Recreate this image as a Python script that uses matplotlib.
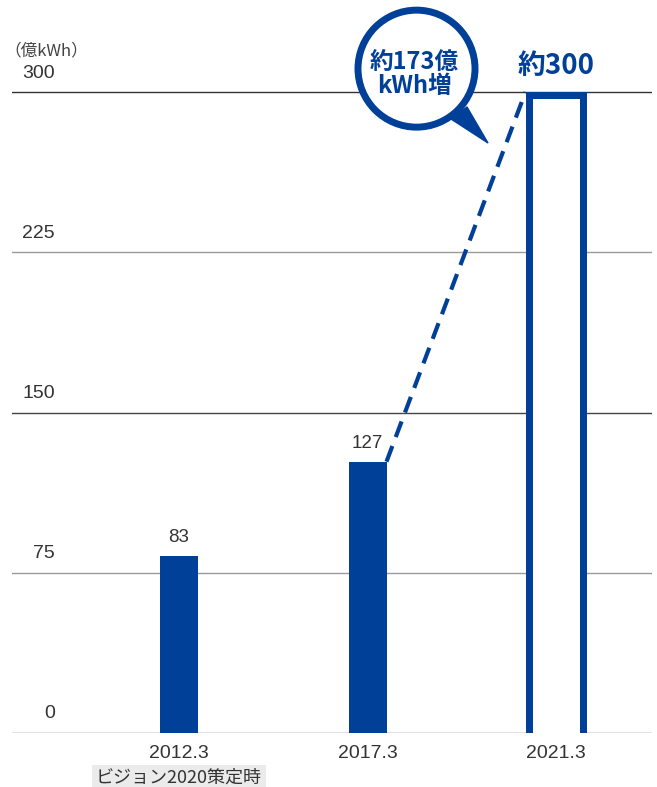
import matplotlib
matplotlib.use("Agg")
import matplotlib.pyplot as plt
from matplotlib.patches import Ellipse, Polygon
from matplotlib.transforms import blended_transform_factory

plt.rcParams['font.family'] = ['Liberation Sans', 'Noto Sans CJK JP']

# data
categories = ["2012.3", "2017.3", "2021.3"]
values = [83, 127, 300]
value_labels = ["83", "127", "約300"]
y_ticks = [0, 75, 150, 225, 300]
unit_label = "（億kWh）"
note_label = "ビジョン2020策定時"
bubble_lines = ["約173億", "kWh増"]

BLUE = "#004098"
TEXT = "#333333"
JP = ['Noto Sans CJK JP', 'Liberation Sans']

W, H = 657, 787
fig = plt.figure(figsize=(W / 100, H / 100), dpi=100)
# axes: left 12px, right 652px, y=0 at 733px from top, top at 0px
ax = fig.add_axes([12 / W, 54 / H, 640 / W, 733 / H])
px_x = 188.5          # px per category
px_y = 641 / 300      # px per unit
ax.set_xlim(-167 / px_x, 473 / px_x)
ax.set_ylim(0, 733 / px_y)
ax.axis("off")

# grid lines
grid_colors = ["#666666", "#9a9a9a", "#444444", "#9a9a9a", "#333333"]
tr = blended_transform_factory(ax.transAxes, ax.transData)
for v, c in zip(y_ticks, grid_colors):
    ax.axhline(v, color=c, lw=1.0, zorder=1)
    ax.text(43 / 640, v + 19 / px_y, str(v), transform=tr, ha="right", va="center",
            fontsize=14, color=TEXT)
ax.text(-8 / 640, 300 + 41 / px_y, unit_label, transform=tr, ha="left", va="center",
        fontsize=12, color="#444444", family=JP)

x = list(range(len(categories)))
bw = 38 / px_x
ax.bar(x[:2], values[:2], width=bw, color=BLUE, zorder=3)

# hollow bar for the target
lw_px = 7
w3 = (61 - lw_px) / px_x
inset = lw_px / 2 / px_y
ax.bar(x[2], values[2], width=w3, color="white", zorder=2)
ax.plot([x[2] - w3 / 2, x[2] - w3 / 2, x[2] + w3 / 2, x[2] + w3 / 2],
        [0, values[2] - inset, values[2] - inset, 0],
        color=BLUE, lw=lw_px * 0.72, solid_joinstyle="miter", zorder=3)

# value labels
for xi, v, lab in zip(x[:2], values[:2], value_labels[:2]):
    ax.text(xi, v + 18 / px_y, lab, ha="center", va="center", fontsize=13.5, color=TEXT)
ax.text(x[2], values[2] + 26 / px_y, value_labels[2], ha="center", va="center",
        fontsize=20, color=BLUE, fontweight="bold", family=JP)

# category labels
for xi, lab in zip(x, categories):
    ax.text(xi, -20 / px_y, lab, ha="center", va="center", fontsize=14, color=TEXT,
            clip_on=False)
ax.text(x[0], -45 / px_y, note_label, ha="center", va="center", fontsize=13,
        color=TEXT, family=JP, clip_on=False,
        bbox=dict(boxstyle="square,pad=0.2", facecolor="#ebebeb", edgecolor="none"))

# dashed growth line
ax.plot([x[1] + bw / 2, x[2] - w3 / 2 - lw_px / 2 / px_x],
        [values[1], values[2]], color=BLUE, lw=3, dashes=(4, 2.3), zorder=3)

# speech bubble
cx, cy = 1 + 49 / px_x, 127 + 393 / px_y
r = 58.5
ax.add_patch(Ellipse((cx, cy), 2 * r / px_x, 2 * r / px_y, facecolor="white",
                     edgecolor=BLUE, lw=5, zorder=4, clip_on=False))
tail_px = [(451, 119), (467, 107), (488, 143)]
ax.add_patch(Polygon([((px - 179) / px_x, (733 - py) / px_y) for px, py in tail_px],
                     closed=True, facecolor=BLUE, edgecolor=BLUE, lw=1, zorder=4))
ax.text(cx - 2 / px_x, cy + 7 / px_y, bubble_lines[0], ha="center", va="center",
        fontsize=17, color=BLUE, fontweight="bold", family=JP, zorder=5)
ax.text(cx - 2 / px_x, cy - 17 / px_y, bubble_lines[1], ha="center", va="center",
        fontsize=17, color=BLUE, fontweight="bold", family=JP, zorder=5)

fig.savefig("out.png", dpi=100)
